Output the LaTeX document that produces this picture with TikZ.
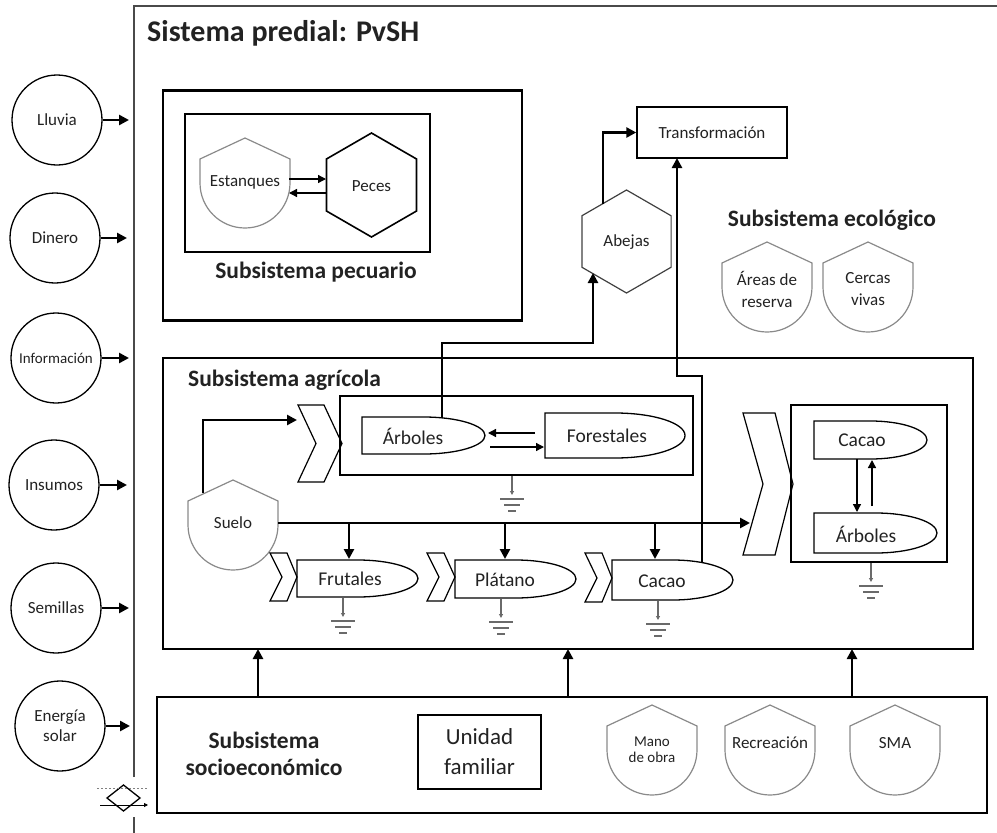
\documentclass[tikz,border=0pt]{standalone}
\usepackage{fontspec}
\setmainfont{Carlito}
\usetikzlibrary{arrows.meta,calc}
\definecolor{txt}{HTML}{222222}
\definecolor{shgray}{HTML}{8A8A8A}
\definecolor{frgray}{HTML}{4A4A4A}
\definecolor{gndgray}{HTML}{6A6A6A}
\newcommand{\shieldpath}[2]{\draw[shieldline] ({#1-45},{#2+21}) -- (#1,#2) -- ({#1+45},{#2+21}) -- ({#1+45},{#2+45}) arc[start angle=0,end angle=180,radius=45] -- cycle;}
\newcommand{\delaypath}[4]{\draw[delayline] (#1,#2) -- ({(#1+#3)/2},#2) arc[start angle=-90,end angle=90,x radius={(#3-#1)/2},y radius={(#4-#2)/2}] -- (#1,#4) -- cycle;}
\newcommand{\hexpath}[4]{\draw[#4] (#1,{#2-#3}) -- ({#1+0.866*#3},{#2-0.5*#3}) -- ({#1+0.866*#3},{#2+0.5*#3}) -- (#1,{#2+#3}) -- ({#1-0.866*#3},{#2+0.5*#3}) -- ({#1-0.866*#3},{#2-0.5*#3}) -- cycle;}
\newcommand{\gndsym}[2]{\draw[gndline,-{Triangle[length=4pt,width=4pt]}] (#1,#2) -- (#1,{#2+19});
  \draw[gndline] ({#1-12},{#2+23}) -- ({#1+12},{#2+23}) ({#1-8},{#2+29}) -- ({#1+8},{#2+29}) ({#1-4},{#2+35}) -- ({#1+4},{#2+35});}
\begin{document}
\begin{tikzpicture}[x=1pt,y=1pt,yscale=-1,
 flow/.style={line width=2.5pt,-{Triangle[length=10pt,width=10pt]}},
 thinflow/.style={line width=1.3pt,-{Triangle[length=8pt,width=8pt]}},
 thickbox/.style={draw=black,line width=2.7pt,inner sep=0pt},
 thinbox/.style={draw=black,line width=1.2pt,inner sep=0pt},
 shieldline/.style={draw=shgray,line width=1.2pt},
 delayline/.style={draw=black,line width=1.3pt},
 chevline/.style={draw=black,line width=1.2pt},
 hexline/.style={draw=black,line width=1.6pt},
 hexgray/.style={draw=black!75,line width=1.2pt},
 gndline/.style={draw=gndgray,line width=1.1pt},
 frame/.style={draw=frgray,line width=2.2pt},
 lbl/.style={font=\fontsize{17}{22}\selectfont,text=txt,align=center,inner sep=0pt},
 lblsm/.style={font=\fontsize{15}{16}\selectfont,text=txt,align=center,inner sep=0pt},
 lbld/.style={font=\fontsize{19.5}{22}\selectfont,text=txt,align=center,inner sep=0pt},
 lblbig/.style={font=\fontsize{23}{30}\selectfont,text=txt,align=center,inner sep=0pt},
 ttl/.style={font=\bfseries\fontsize{23.5}{27}\selectfont,text=txt,align=center,inner sep=0pt},
 circ/.style={circle,draw=black,line width=1.3pt,minimum size=90pt,inner sep=0pt,font=\fontsize{17}{20}\selectfont,text=txt,align=center}
]
\useasboundingbox (0,0) rectangle (997,833);
% ---------- frame and title
\draw[frame] (134,833) -- (134,817);
\draw[frame] (134,777) -- (134,6) -- (997,6);
\node[anchor=west,font=\bfseries\fontsize{30}{32}\selectfont,text=txt,inner sep=0pt] (title) at (147,33) {Sistema predial: PvSH};
% ---------- inputs
\node[circ] (lluvia) at (57,120) {Lluvia};
\node[circ] (dinero) at (55,238) {Dinero};
\node[circ,font=\fontsize{15}{16}\selectfont] (info) at (56,358) {Información};
\node[circ] (insumos) at (54,485) {Insumos};
\node[circ] (semillas) at (56,608) {Semillas};
\node[circ,font=\fontsize{17}{20}\selectfont] (energia) at (60,726) {Energía\\solar};
\coordinate (inA) at (129,120);
\coordinate (inB) at (127,238);
\coordinate (inC) at (129,358);
\coordinate (inD) at (127,485);
\coordinate (inE) at (129,608);
\coordinate (inF) at (130,726);
\draw[flow] (lluvia.east) -- (inA);
\draw[flow] (dinero.east) -- (inB);
\draw[flow] (info.east) -- (inC);
\draw[flow] (insumos.east) -- (inD);
\draw[flow] (semillas.east) -- (inE);
\draw[flow] (energia.east) -- (inF);
% ---------- exchange symbol
\draw[black,line width=1.3pt] (107,798) -- (123.5,785) -- (140,798) -- (123.5,811) -- cycle;
\draw[gray,line width=0.8pt,dash pattern=on 2pt off 2pt] (97,788) -- (148,788);
\draw[black,line width=0.9pt,-{Triangle[length=4pt,width=4pt]}] (100,805) -- (148,805);
% ---------- subsistema pecuario
\node[thickbox,minimum width=359pt,minimum height=230pt] (pecu) at (342.5,205.5) {};
\node[thinbox,minimum width=245pt,minimum height=138pt] (pecuin) at (307.5,183) {};
\shieldpath{245}{138}
\node[lbl] (estanques) at (245,182) {Estanques};
\hexpath{371.5}{185}{52}{hexline}
\node[lbl] (peces) at (371.5,186) {Peces};
\draw[thinflow] (289,179) -- (326,179);
\draw[thinflow] (326,193) -- (289,193);
\node[ttl] (pecuttl) at (316,272) {Subsistema pecuario};
% ---------- transformacion, abejas
\node[thinbox,line width=1.4pt,minimum width=150pt,minimum height=51pt,lbl] (transf) at (712,132.5) {Transformación};
\hexpath{626.5}{241.5}{51.5}{hexgray}
\node[lbl] (abejas) at (626.5,242) {Abejas};
\draw[flow] (603,204) |- (transf.west);
% ---------- subsistema ecologico
\node[ttl] (ecottl) at (832,220) {Subsistema ecológico};
\shieldpath{767}{242}
\node[lbl] (areas) at (767,289) {Áreas de\\reserva};
\shieldpath{868}{242}
\node[lbl] (cercas) at (868,289) {Cercas\\vivas};
% ---------- subsistema agricola
\node[thinbox,line width=1.3pt,minimum width=810pt,minimum height=291pt] (agri) at (568,503.5) {};
\node[ttl,anchor=west] (agrittl) at (188,380) {Subsistema agrícola};
\node[thickbox,minimum width=353pt,minimum height=79pt] (af) at (516.5,435.5) {};
\draw[chevline] (298,405) -- (324,405) -- (342,443.5) -- (324,482) -- (298,482) -- (316,443.5) -- cycle;
\coordinate (chevAin) at (297,420);
\delaypath{362}{417}{485}{454}
\node[lbld] (arbA) at (413,436) {Árboles};
\delaypath{545}{413}{685}{458}
\node[lbld] (forest) at (607,436) {Forestales};
\draw[thinflow] (535,433) -- (488,433);
\draw[thinflow] (490,447) -- (544,447);
\gndsym{512}{476}
% suelo
\shieldpath{233}{480}
\node[lbl] (suelo) at (233,523) {Suelo};
\draw[flow] (203,493) |- (chevAin);
% crops
\draw[chevline] (270,553) -- (287,553) -- (297,577) -- (287,601) -- (270,601) -- (282,577) -- cycle;
\delaypath{297}{560}{418}{597}
\node[lbld] (frut) at (350,579) {Frutales};
\draw[chevline] (427,553) -- (444,553) -- (455,577) -- (444,601) -- (427,601) -- (439,577) -- cycle;
\delaypath{455}{560}{576}{598}
\node[lbld] (plat) at (505,580) {Plátano};
\draw[chevline] (585,553) -- (602,553) -- (612,578) -- (602,602) -- (585,602) -- (597,578) -- cycle;
\delaypath{612}{560}{733}{600}
\node[lbld] (cacA) at (662,581) {Cacao};
\gndsym{343}{598}
\gndsym{501}{599}
\gndsym{658}{601}
\coordinate (sueloEnd) at (750,523);
\draw[flow] (278,523) -- (sueloEnd);
\draw[flow] (349,523) -- (349,559);
\draw[flow] (505,523) -- (505,559);
\draw[flow] (655,523) -- (655,559);
% cacao-arboles box
\draw[chevline] (743,413) -- (775,413) -- (793,484) -- (775,555) -- (743,555) -- (763,484) -- cycle;
\node[thickbox,minimum width=156pt,minimum height=157pt] (ca) at (869,483.5) {};
\delaypath{814}{421}{927}{459}
\node[lbld] (cacB) at (862,440) {Cacao};
\delaypath{814}{513}{937}{553}
\node[lbld] (arbB) at (866,534) {Árboles};
\draw[thinflow] (857,459) -- (857,512);
\draw[thinflow] (872,506) -- (872,460);
\gndsym{871}{563}
% long connectors
\draw[flow] (442,418) -- (442,343) -| (593,273);
\coordinate (trIn) at (677,158);
\draw[flow] (702,562) -- (702,376) -- (677,376) -- (trIn);
% ---------- subsistema socioeconomico
\node[thickbox,minimum width=830pt,minimum height=116pt] (socio) at (572,755) {};
\node[ttl] (socittl) at (264,754) {Subsistema\\socioeconómico};
\node[thinbox,line width=1.3pt,minimum width=123pt,minimum height=74pt,lblbig] (unidad) at (479.5,752) {Unidad\\familiar};
\shieldpath{652}{705}
\node[lblsm] (mano) at (652,750) {Mano\\de obra};
\shieldpath{770}{705}
\node[lbl] (recre) at (770,743) {Recreación};
\shieldpath{895}{705}
\node[lbl] (sma) at (895,743) {SMA};
\draw[flow] (258,697) -- (258,649);
\draw[flow] (568,697) -- (568,649);
\draw[flow] (852,697) -- (852,649);
\end{tikzpicture}
\end{document}
